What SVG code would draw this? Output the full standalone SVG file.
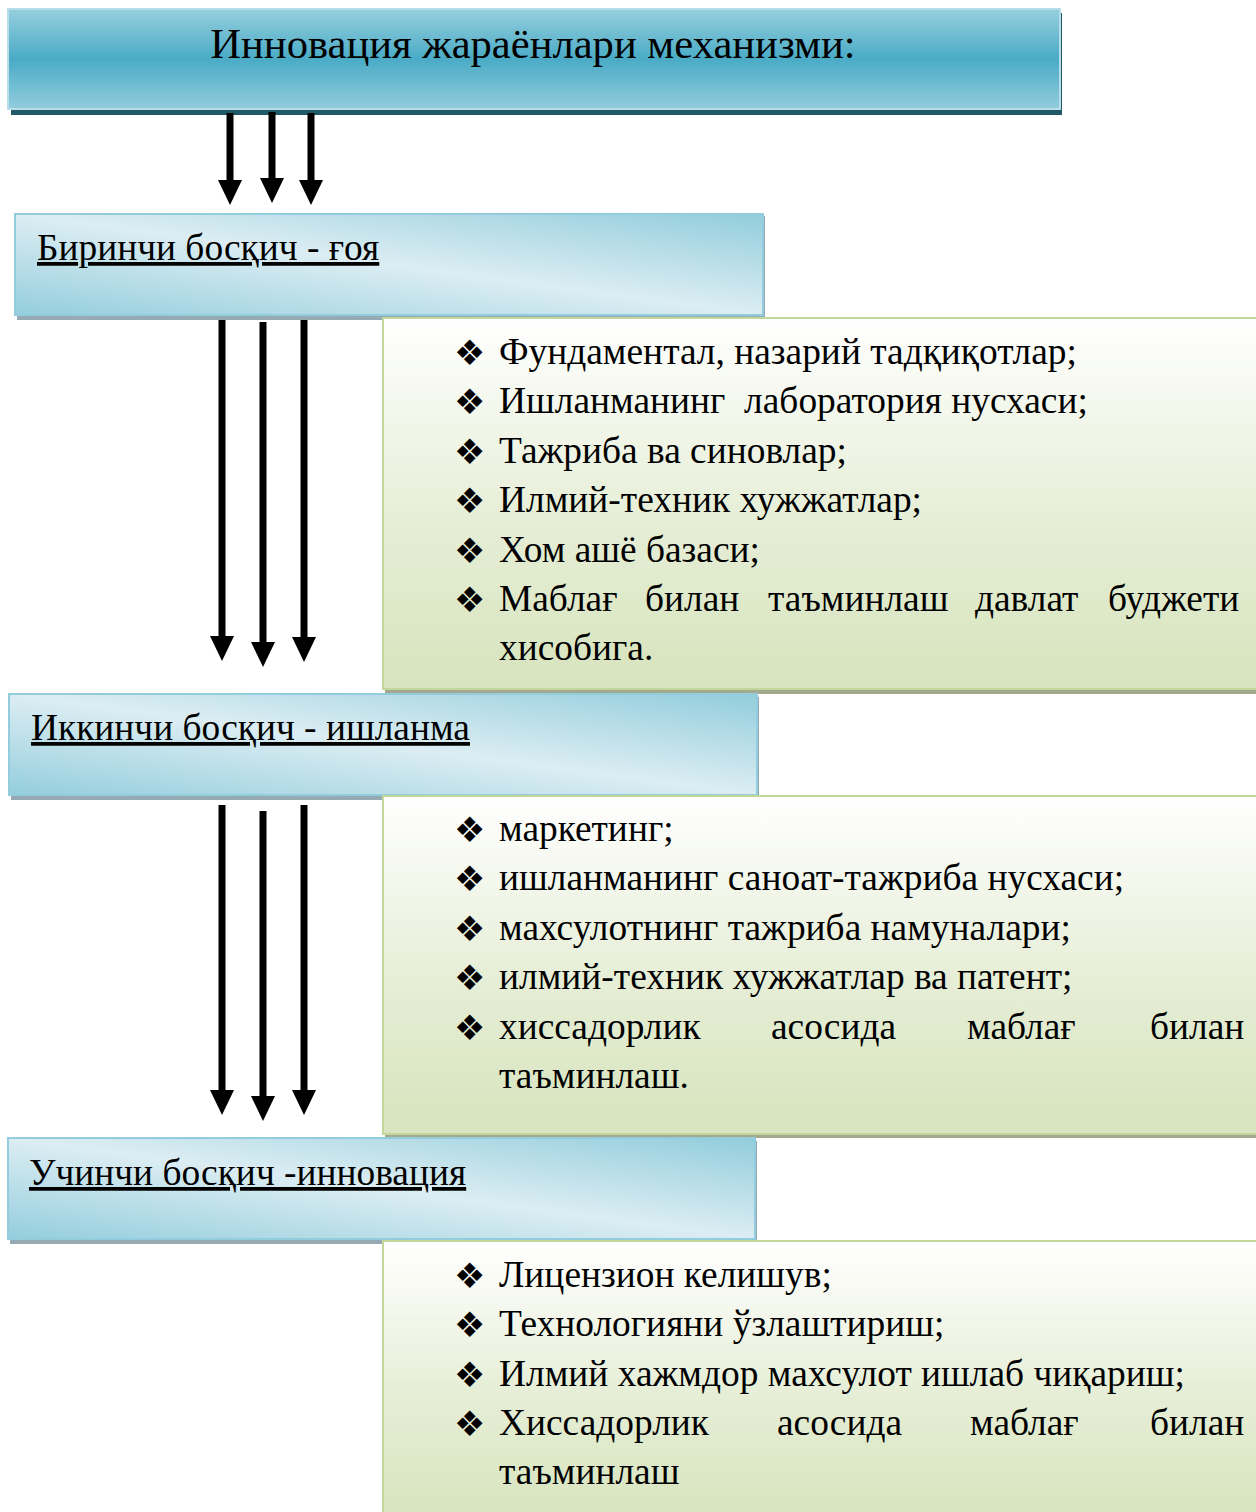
<svg xmlns="http://www.w3.org/2000/svg" width="1256" height="1512" viewBox="0 0 1256 1512">
<defs>
<linearGradient id="gTitle" x1="0" y1="0" x2="0" y2="1">
<stop offset="0" stop-color="#96cfde"/>
<stop offset="0.5" stop-color="#4aabc6"/>
<stop offset="1" stop-color="#92cddc"/>
</linearGradient>
<linearGradient id="gHead" x1="0" y1="1" x2="1" y2="0">
<stop offset="0" stop-color="#94cedd"/>
<stop offset="0.5" stop-color="#dcedf3"/>
<stop offset="1" stop-color="#92cddc"/>
</linearGradient>
<linearGradient id="gList" x1="0" y1="0" x2="0" y2="1">
<stop offset="0" stop-color="#ffffff"/>
<stop offset="0.55" stop-color="#e6eed6"/>
<stop offset="1" stop-color="#d7e4bd"/>
</linearGradient>
<marker id="ah" markerUnits="userSpaceOnUse" markerWidth="26" markerHeight="24" refX="1" refY="12" orient="auto" viewBox="0 0 26 24">
<path d="M0,0 L25,12 L0,24 Z" fill="#000"/>
</marker>
<style>
.title{font-family:"Liberation Serif","Times New Roman",serif;font-size:42.6px;fill:#000}
.h{font-family:"Liberation Serif","Times New Roman",serif;font-size:37.4px;fill:#000;text-decoration:underline}
.t{font-family:"Liberation Serif","Times New Roman",serif;font-size:37.4px;fill:#000}
.b{font-family:"DejaVu Sans",sans-serif;font-size:35px;fill:#000}
.hbox{fill:url(#gHead);stroke:#93cddd;stroke-width:2}
.hsh{fill:#95aab3}
.lbox{fill:url(#gList);stroke:#c3d69b;stroke-width:2}
.lsh{fill:#a3a98f}
.arr{stroke:#000;stroke-width:7;fill:none;marker-end:url(#ah)}
</style>
</defs>
<rect width="1256" height="1512" fill="#fff"/>

<g id="title">
<rect x="11" y="13" width="1051" height="102" fill="#215968"/>
<rect x="8" y="9" width="1052" height="100" fill="url(#gTitle)" stroke="#b6dde8" stroke-width="2"/>
<text class="title" x="533" y="58" text-anchor="middle">Инновация жараёнлари механизми:</text>
</g>

<g id="connectors">
<line class="arr" x1="230" y1="113" x2="230" y2="181"/>
<line class="arr" x1="272" y1="112" x2="272" y2="179"/>
<line class="arr" x1="311" y1="113" x2="311" y2="181"/>
<line class="arr" x1="222" y1="316" x2="222" y2="637"/>
<line class="arr" x1="263" y1="322" x2="263" y2="643"/>
<line class="arr" x1="304" y1="316" x2="304" y2="638"/>
<line class="arr" x1="222" y1="805" x2="222" y2="1091"/>
<line class="arr" x1="263" y1="811" x2="263" y2="1097"/>
<line class="arr" x1="304" y1="805" x2="304" y2="1091"/>
</g>

<g id="stage1">
<rect class="hsh" x="17" y="216" width="748" height="104"/>
<rect class="hbox" x="15" y="214" width="748" height="101"/>
<text class="h" x="37" y="260">Биринчи босқич - ғоя</text>
</g>

<g id="list1">
<rect class="lsh" x="385" y="320" width="880" height="374"/>
<rect class="lbox" x="383" y="318" width="880" height="371"/>
<text class="b" x="454" y="365">❖</text><text class="t" x="499" y="364">Фундаментал, назарий тадқиқотлар;</text>
<text class="b" x="454" y="414">❖</text><text class="t" x="499" y="413" xml:space="preserve">Ишланманинг  лаборатория нусхаси;</text>
<text class="b" x="454" y="464">❖</text><text class="t" x="499" y="463">Тажриба ва синовлар;</text>
<text class="b" x="454" y="513">❖</text><text class="t" x="499" y="512">Илмий-техник хужжатлар;</text>
<text class="b" x="454" y="563">❖</text><text class="t" x="499" y="562">Хом ашё базаси;</text>
<text class="b" x="454" y="612">❖</text><text class="t" y="611"><tspan x="499">Маблағ</tspan><tspan x="645">билан</tspan><tspan x="768">таъминлаш</tspan><tspan x="975">давлат</tspan><tspan x="1108">буджети</tspan></text>
<text class="t" x="499" y="660">хисобига.</text>
</g>

<g id="stage2">
<rect class="hsh" x="11" y="697" width="748" height="103"/>
<rect class="hbox" x="9" y="694" width="748" height="101"/>
<text class="h" x="31" y="740">Иккинчи босқич - ишланма</text>
</g>

<g id="list2">
<rect class="lsh" x="385" y="798" width="880" height="340"/>
<rect class="lbox" x="383" y="796" width="880" height="338"/>
<text class="b" x="454" y="842">❖</text><text class="t" x="499" y="841">маркетинг;</text>
<text class="b" x="454" y="891">❖</text><text class="t" x="499" y="890">ишланманинг саноат-тажриба нусхаси;</text>
<text class="b" x="454" y="941">❖</text><text class="t" x="499" y="940">махсулотнинг тажриба намуналари;</text>
<text class="b" x="454" y="990">❖</text><text class="t" x="499" y="989">илмий-техник хужжатлар ва патент;</text>
<text class="b" x="454" y="1040">❖</text><text class="t" y="1039"><tspan x="499">хиссадорлик</tspan><tspan x="771">асосида</tspan><tspan x="967">маблағ</tspan><tspan x="1150">билан</tspan></text>
<text class="t" x="499" y="1088">таъминлаш.</text>
</g>

<g id="stage3">
<rect class="hsh" x="10" y="1141" width="747" height="103"/>
<rect class="hbox" x="8" y="1138" width="747" height="101"/>
<text class="h" x="29" y="1185">Учинчи босқич -инновация</text>
</g>

<g id="list3">
<rect class="lsh" x="385" y="1243" width="880" height="280"/>
<rect class="lbox" x="383" y="1241" width="880" height="280"/>
<text class="b" x="454" y="1288">❖</text><text class="t" x="499" y="1287">Лицензион келишув;</text>
<text class="b" x="454" y="1337">❖</text><text class="t" x="499" y="1336">Технологияни ўзлаштириш;</text>
<text class="b" x="454" y="1387">❖</text><text class="t" x="499" y="1386">Илмий хажмдор махсулот ишлаб чиқариш;</text>
<text class="b" x="454" y="1436">❖</text><text class="t" y="1435"><tspan x="499">Хиссадорлик</tspan><tspan x="777">асосида</tspan><tspan x="970">маблағ</tspan><tspan x="1150">билан</tspan></text>
<text class="t" x="499" y="1484">таъминлаш</text>
</g>
</svg>
